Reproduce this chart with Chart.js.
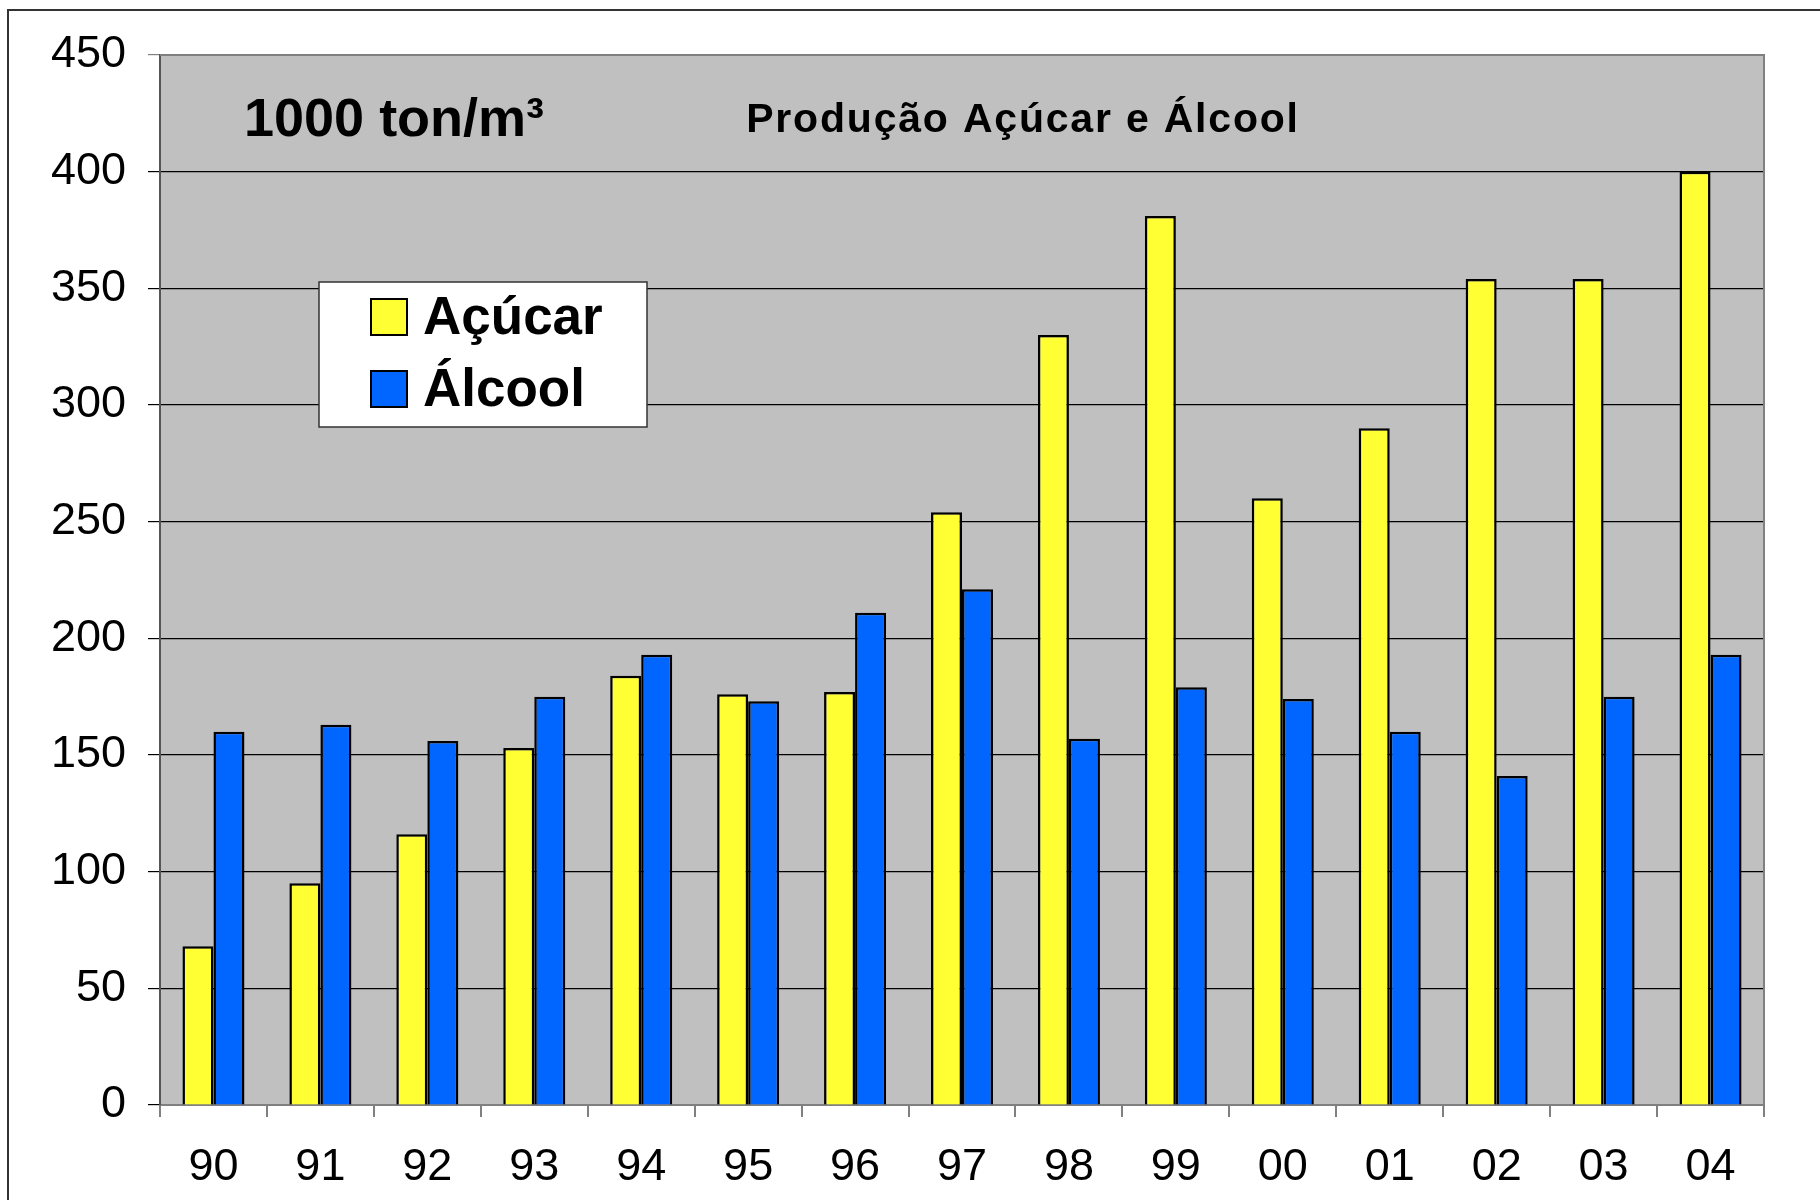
<!DOCTYPE html>
<html>
<head>
<meta charset="utf-8">
<script src="https://cdn.jsdelivr.net/npm/chart.js@4"></script>
<style>
  body { margin: 0; background: #fff; }
  canvas { display: block; }
</style>
</head>
<body>
<canvas id="myChart" width="1820" height="1200"></canvas>
<script>
const years = ["90", "91", "92", "93", "94", "95", "96", "97", "98", "99", "00", "01", "02", "03", "04"];
const acucar = [68, 95, 116, 153, 184, 176, 177, 254, 330, 381, 260, 290, 354, 354, 400];
const alcool = [160, 163, 156, 175, 193, 173, 211, 221, 157, 179, 174, 160, 141, 175, 193];
const unitLabel = "1000 ton/m³";
const chartTitle = "Produção Açúcar e Álcool";

const FONT = "'Liberation Sans', Arial, sans-serif";

/* plot background, outer frame and plot border */
const backdrop = {
  id: "backdrop",
  beforeDraw(chart) {
    const { ctx, chartArea } = chart;
    ctx.save();
    ctx.strokeStyle = "#333";
    ctx.lineWidth = 2;
    ctx.strokeRect(8, 10, 2000, 2000);
    ctx.fillStyle = "#c0c0c0";
    ctx.fillRect(chartArea.left, chartArea.top, chartArea.width, chartArea.height);
    ctx.restore();
  },
  afterDatasetsDraw(chart) {
    const { ctx, chartArea } = chart;
    ctx.save();
    ctx.strokeStyle = "#808080";
    ctx.lineWidth = 2;
    ctx.beginPath();
    ctx.moveTo(chartArea.left, chartArea.top);
    ctx.lineTo(chartArea.right, chartArea.top);
    ctx.lineTo(chartArea.right, chartArea.bottom);
    ctx.stroke();
    ctx.restore();
  },
};

/* the texts and the legend that sit inside the plot */
const insideText = {
  id: "insideText",
  afterDraw(chart) {
    const { ctx, chartArea } = chart;
    ctx.save();
    ctx.fillStyle = "#000";
    ctx.textBaseline = "middle";
    ctx.font = "bold 54px " + FONT;
    ctx.textAlign = "left";
    ctx.fillText(unitLabel, chartArea.left + 84, chartArea.top + 66);
    ctx.font = "bold 41px " + FONT;
    ctx.letterSpacing = "1.8px";
    ctx.textAlign = "center";
    ctx.fillText(chartTitle, chartArea.left + 863, chartArea.top + 66);
    ctx.letterSpacing = "0px";

    // legend
    const bx = chartArea.left + 159, by = chartArea.top + 227;
    ctx.fillStyle = "#fff";
    ctx.fillRect(bx, by, 328, 145);
    ctx.strokeStyle = "#333";
    ctx.lineWidth = 1.5;
    ctx.strokeRect(bx, by, 328, 145);
    ctx.font = "bold 53px " + FONT;
    ctx.textAlign = "left";
    chart.data.datasets.forEach((ds, i) => {
      const cy = by + 35 + i * 72;
      ctx.fillStyle = ds.backgroundColor;
      ctx.fillRect(bx + 52, cy - 18, 36, 36);
      ctx.strokeStyle = "#000";
      ctx.lineWidth = 2;
      ctx.strokeRect(bx + 52, cy - 18, 36, 36);
      ctx.fillStyle = "#000";
      ctx.fillText(ds.label, bx + 104, cy + 2);
    });
    ctx.restore();
  },
};

const ctx = document.getElementById("myChart");
new Chart(ctx, {
  type: "bar",
  data: {
    labels: years,
    datasets: [
      {
        label: "Açúcar",
        data: acucar,
        backgroundColor: "#ffff33",
        borderColor: "#000",
        borderWidth: 2.5,
        categoryPercentage: 0.58,
        barPercentage: 1.0,
      },
      {
        label: "Álcool",
        data: alcool,
        backgroundColor: "#0066ff",
        borderColor: "#000",
        borderWidth: 2.5,
        categoryPercentage: 0.58,
        barPercentage: 1.0,
      },
    ],
  },
  options: {
    responsive: false,
    animation: false,
    devicePixelRatio: 1,
    layout: { padding: { left: 0, top: 55, right: 56, bottom: 0 } },
    scales: {
      x: {
        grid: {
          drawOnChartArea: false,
          drawTicks: true,
          tickLength: 12,
          color: "#808080",
          lineWidth: 2,
          offset: true,
        },
        border: { color: "#808080", width: 2 },
        ticks: {
          color: "#000",
          font: { family: FONT, size: 45 },
          padding: 24,
        },
        afterFit: (scale) => { scale.height = 95; },
      },
      y: {
        min: 0,
        max: 450,
        ticks: {
          stepSize: 50,
          color: "#000",
          font: { family: FONT, size: 45 },
          padding: 22,
        },
        grid: {
          color: (c) => (c.tick && c.tick.value === 450 ? "#808080" : "#000"),
          lineWidth: 1.2,
          tickLength: 12,
        },
        border: { color: "#555", width: 2 },
        afterFit: (scale) => { scale.width = 160; },
      },
    },
    plugins: {
      legend: { display: false },
      tooltip: { enabled: false },
    },
  },
  plugins: [backdrop, insideText],
});
</script>
</body>
</html>
